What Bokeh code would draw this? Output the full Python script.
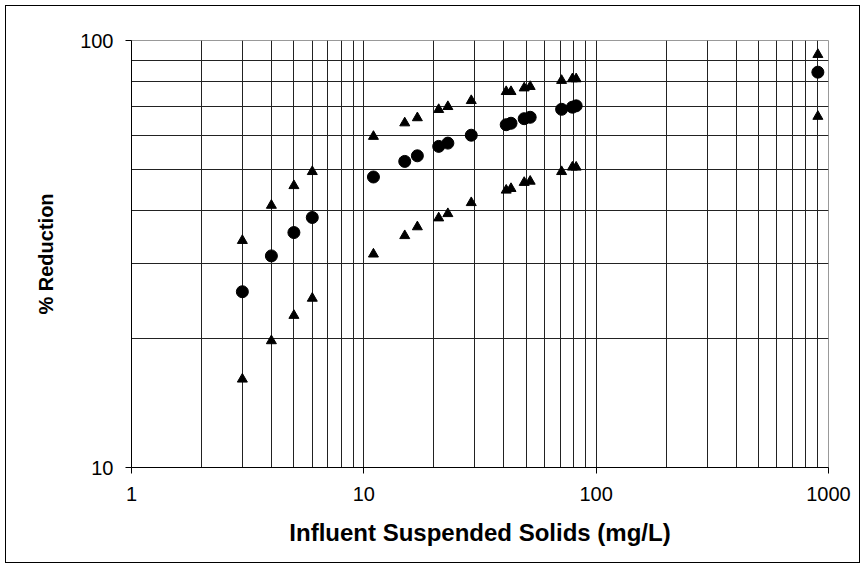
from bokeh.plotting import figure
from bokeh.models import FixedTicker, ColumnDataSource
from bokeh.embed import file_html
from bokeh.resources import INLINE

# Influent suspended solids (mg/L)
x_vals = [3, 4, 5, 6, 11, 15, 17, 21, 23, 29, 41, 43, 49, 52, 71, 79, 82, 900]
# % Reduction: upper bound, mean, lower bound
upper = [34.0, 41.1, 45.7, 49.3, 59.6, 64.1, 65.9, 68.9, 70.0, 72.3, 75.9, 75.9, 77.4, 78.0, 80.6, 81.3, 81.3, 92.7]
mean = [25.8, 31.3, 35.5, 38.5, 47.9, 52.1, 53.7, 56.5, 57.5, 60.0, 63.5, 64.0, 65.6, 66.1, 69.0, 69.8, 70.3, 84.3]
lower = [16.1, 19.8, 22.7, 24.9, 31.6, 34.9, 36.6, 38.4, 39.3, 41.7, 44.6, 45.0, 46.5, 46.8, 49.3, 50.5, 50.5, 66.4]

x_major = [1, 10, 100, 1000]
x_minor = [2, 3, 4, 5, 6, 7, 8, 9, 20, 30, 40, 50, 60, 70, 80, 90, 200, 300, 400, 500, 600, 700, 800, 900]
y_major = [10, 100]
y_minor = [20, 30, 40, 50, 60, 70, 80, 90]

src = ColumnDataSource(dict(x=x_vals, upper=upper, mean=mean, lower=lower))

p = figure(
    x_axis_type="log", y_axis_type="log",
    x_range=(1, 1000), y_range=(10, 100),
    frame_width=697, frame_height=427,
    min_border_left=125, min_border_right=31,
    min_border_top=34, min_border_bottom=95,
    output_backend="svg", toolbar_location=None,
    x_axis_label="Influent Suspended Solids (mg/L)",
    y_axis_label="% Reduction",
    styles={"border": "1px solid black", "margin": "5px 0 0 5px"},
)

p.xaxis.ticker = FixedTicker(ticks=x_major, minor_ticks=x_minor)
p.yaxis.ticker = FixedTicker(ticks=y_major, minor_ticks=y_minor)
p.xaxis.major_label_overrides = {1: "1", 10: "10", 100: "100", 1000: "1000"}
p.yaxis.major_label_overrides = {10: "10", 100: "100"}

for ax in (p.xaxis[0], p.yaxis[0]):
    ax.axis_line_color = "black"
    ax.axis_line_width = 1
    ax.major_tick_line_color = "black"
    ax.major_tick_out = 6
    ax.major_tick_in = 0
    ax.minor_tick_line_color = None
    ax.major_label_text_font = "Liberation Sans"
    ax.major_label_text_font_size = "20px"
    ax.major_label_text_color = "black"
    ax.axis_label_text_font = "Liberation Sans"
    ax.axis_label_text_font_style = "bold"
    ax.axis_label_text_color = "black"

p.xaxis.axis_label_text_font_size = "24px"
p.yaxis.axis_label_text_font_size = "20px"

p.xaxis.major_label_standoff = 13
p.xaxis.axis_label_standoff = 15
p.yaxis.major_label_standoff = 12
p.yaxis.axis_label_standoff = 20

for g in (p.xgrid[0], p.ygrid[0]):
    g.grid_line_color = "#222222"
    g.grid_line_width = 1
    g.minor_grid_line_color = "#222222"
    g.minor_grid_line_width = 1

p.outline_line_color = "#999999"
p.outline_line_width = 1
p.background_fill_color = "white"
p.border_fill_color = "white"

p.scatter("x", "upper", source=src, marker="triangle", size=10, color="black")
p.scatter("x", "mean", source=src, marker="circle", size=12, color="black")
p.scatter("x", "lower", source=src, marker="triangle", size=10, color="black")

open("out.html", "w").write(file_html(p, INLINE))
